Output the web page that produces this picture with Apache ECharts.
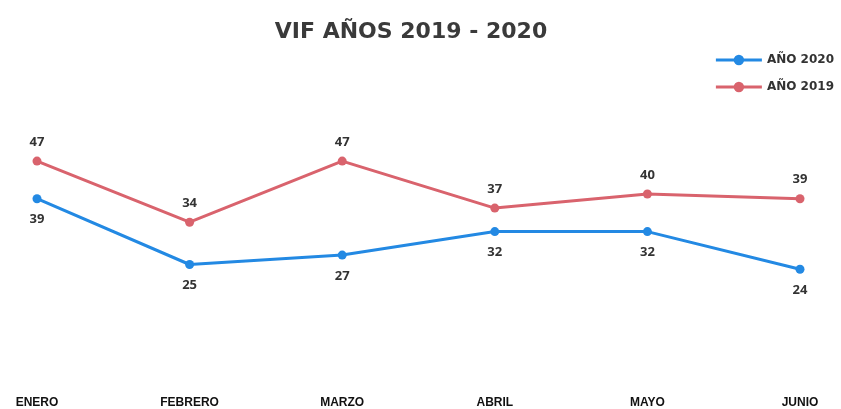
<!DOCTYPE html>
<html>
<head>
<meta charset="utf-8">
<script src="https://cdn.jsdelivr.net/npm/echarts@6/dist/echarts.min.js"></script>
<style>
  html, body { margin: 0; padding: 0; background: #fff; }
  #chart { width: 841px; height: 409px; }
</style>
</head>
<body>
<div id="chart"></div>
<script>
// datos de la grafica
var meses = ['ENERO', 'FEBRERO', 'MARZO', 'ABRIL', 'MAYO', 'JUNIO'];
var anio2020 = [39, 25, 27, 32, 32, 24];
var anio2019 = [47, 34, 47, 37, 40, 39];

var azul = '#2389e3';
var rojo = '#d9636d';

var myChart = echarts.init(document.getElementById('chart'));

var option = {
    title: {
        text: 'VIF AÑOS 2019 - 2020',
        left: 406,
        textAlign: 'center',
        top: 16,
        textStyle: {
            fontFamily: 'DejaVu Sans',
            fontWeight: 'bold',
            fontSize: 22,
            color: '#3a3a3a'
        }
    },
    // leyenda arriba a la derecha
    legend: {
        orient: 'vertical',
        right: 2,
        top: 49,
        itemGap: 15,
        itemWidth: 46,
        itemHeight: 13,
        data: ['AÑO 2020', 'AÑO 2019'],
        lineStyle: { width: 3 },
        textStyle: {
            fontFamily: 'DejaVu Sans',
            fontWeight: 'bold',
            fontSize: 12,
            color: '#333'
        }
    },
    grid: {
        left: 37,
        right: 41,
        top: 100,
        bottom: 26
    },
    xAxis: {
        type: 'category',
        boundaryGap: false,
        data: meses,
        axisLine: { show: false },
        axisTick: { show: false },
        axisLabel: {
            margin: 15,
            fontFamily: 'Liberation Sans Narrow, Liberation Sans',
            fontWeight: 'bold',
            fontSize: 12,
            color: '#111'
        }
    },
    yAxis: {
        type: 'value',
        min: 0,
        max: 60,
        show: false,
        splitLine: { show: false }
    },
    series: [
        {
            name: 'AÑO 2020',
            type: 'line',
            data: anio2020,
            symbol: 'circle',
            symbolSize: 9,
            lineStyle: { color: azul, width: 3 },
            itemStyle: { color: azul },
            label: {
                show: true,
                position: 'bottom',
                distance: 10,
                fontFamily: 'Open Sans',
                fontWeight: 'bold',
                fontSize: 13,
                color: '#333'
            }
        },
        {
            name: 'AÑO 2019',
            type: 'line',
            data: anio2019,
            symbol: 'circle',
            symbolSize: 9,
            lineStyle: { color: rojo, width: 3 },
            itemStyle: { color: rojo },
            label: {
                show: true,
                position: 'top',
                distance: 8,
                fontFamily: 'Open Sans',
                fontWeight: 'bold',
                fontSize: 13,
                color: '#333'
            }
        }
    ]
};

myChart.setOption(option);
</script>
</body>
</html>
